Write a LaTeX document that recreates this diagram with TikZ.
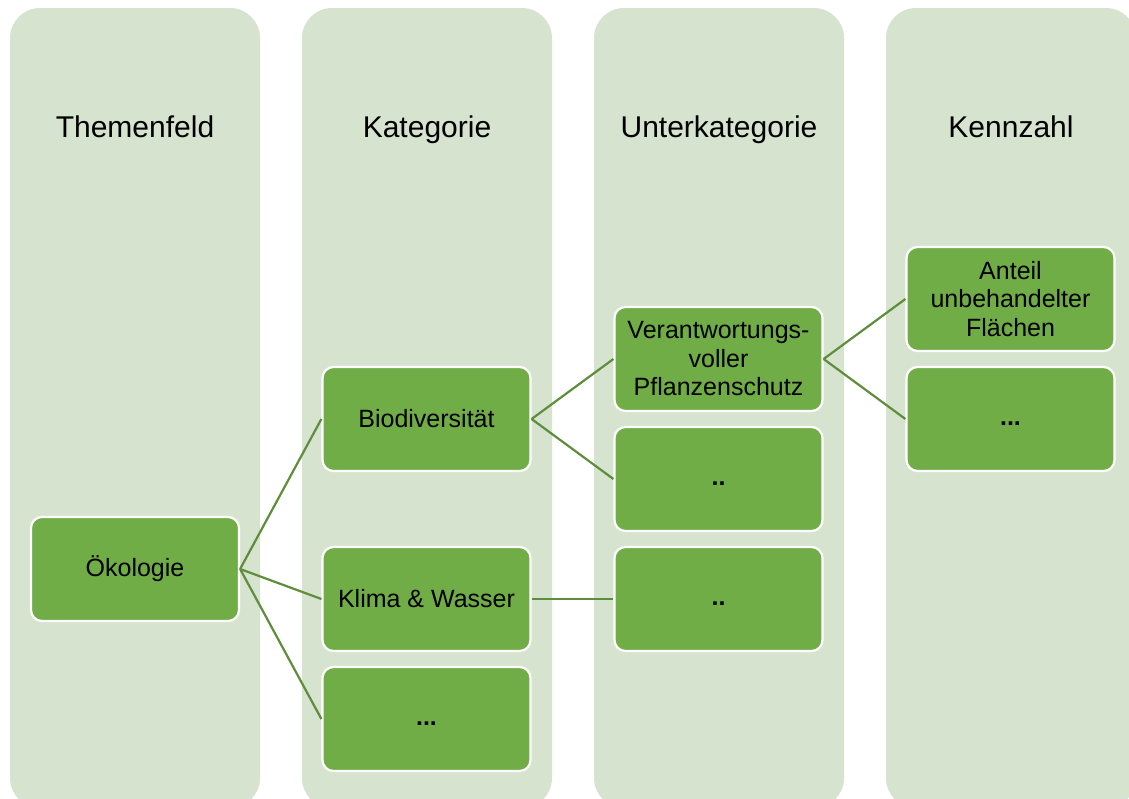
\documentclass[tikz,border=0pt]{standalone}
\usepackage{fontspec}
\setmainfont{Liberation Sans}
\definecolor{colbg}{HTML}{D6E3CF}
\definecolor{boxgreen}{HTML}{70AD47}
\definecolor{linegreen}{HTML}{5E8E3C}
\newcommand{\dotsfill}[1]{\vphantom{Ag}\textbf{#1}}
\begin{document}
\begin{tikzpicture}[x=1pt,y=-1pt,
  colbox/.style={rectangle, rounded corners=30pt, fill=colbg, minimum width=250pt, minimum height=800pt, inner sep=0pt},
  header/.style={font=\fontsize{30}{36}\selectfont, text=black, anchor=base},
  gbox/.style={rectangle, rounded corners=11pt, fill=boxgreen, draw=white, line width=2.2pt,
    minimum width=208pt, minimum height=104pt, inner sep=2pt, align=center,
    font=\fontsize{25}{28.5}\selectfont, text=black},
  conn/.style={draw=linegreen, line width=2.2pt}]
\useasboundingbox (0,0) rectangle (1129,798);
\clip (0,0) rectangle (1129,798);
% columns
\node[colbox] (c1) at (135,408) {};
\node[colbox] (c2) at (427,408) {};
\node[colbox] (c3) at (719,408) {};
\node[colbox] (c4) at (1011,408) {};
% headers
\node[header] (h1) at (135,137) {Themenfeld};
\node[header] (h2) at (427,137) {Kategorie};
\node[header] (h3) at (719,137) {Unterkategorie};
\node[header] (h4) at (1011,137) {Kennzahl};
% boxes
\node[gbox] (oek) at (135,569) {Ökologie};
\node[gbox] (bio) at (426.5,419) {Biodiversität};
\node[gbox] (klima) at (426.5,599) {Klima \& Wasser};
\node[gbox] (kdots) at (426.5,719) {\dotsfill{...}};
\node[gbox] (pfl) at (718.5,359) {Verantwortungs-\\voller\\Pflanzenschutz};
\node[gbox] (udots1) at (718.5,479) {\dotsfill{..}};
\node[gbox] (udots2) at (718.5,599) {\dotsfill{..}};
\node[gbox] (ant) at (1010.5,299) {Anteil\\unbehandelter\\Flächen};
\node[gbox] (zdots) at (1010.5,419) {\dotsfill{...}};
% connectors
\draw[conn] (oek.east) -- (bio.west);
\draw[conn] (oek.east) -- (klima.west);
\draw[conn] (oek.east) -- (kdots.west);
\draw[conn] (bio.east) -- (pfl.west);
\draw[conn] (bio.east) -- (udots1.west);
\draw[conn] (klima.east) -- (udots2.west);
\draw[conn] (pfl.east) -- (ant.west);
\draw[conn] (pfl.east) -- (zdots.west);
\end{tikzpicture}
\end{document}
